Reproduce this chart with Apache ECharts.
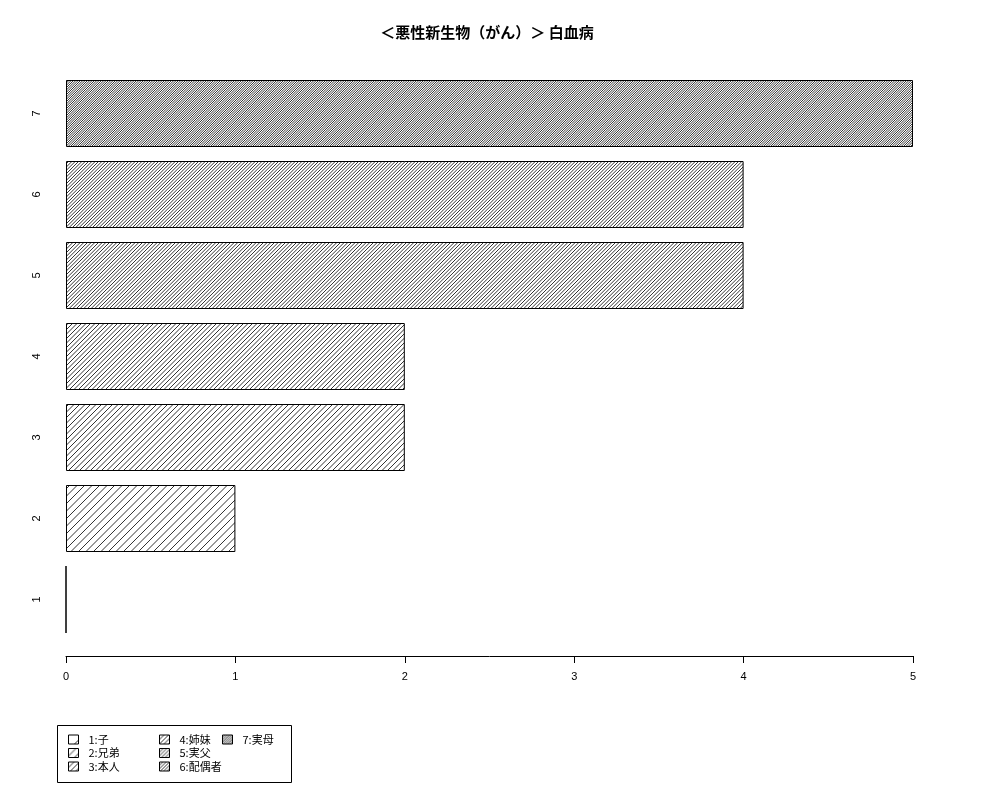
<!DOCTYPE html>
<html>
<head>
<meta charset="utf-8">
<script src="https://cdn.jsdelivr.net/npm/echarts@6/dist/echarts.min.js"></script>
<style>
html,body{margin:0;padding:0;background:#fff;}
#chart{width:1000px;height:800px;}
</style>
</head>
<body>
<div id="chart"></div>
<script>
var categories = ['1','2','3','4','5','6','7'];
var values = [0,1,2,2,4,4,5];
var legendLabels = ['1:子','2:兄弟','3:本人','4:姉妹','5:実父','6:配偶者','7:実母'];
var xTicks = [0,1,2,3,4,5];

// hatch tiles: [tile size, lines per tile] -> denser for higher categories
var hatch = [[15,1],[15,2],[11,2],[9,2],[11,3],[10,3],[7,3]];

function makeHatch(size, n){
	var c = document.createElement('canvas');
	c.width = size; c.height = size;
	var ctx = c.getContext('2d');
	ctx.strokeStyle = '#000';
	ctx.lineWidth = 0.8;
	ctx.beginPath();
	for (var k = -1; k <= 1; k++) {
		for (var j = 0; j < n; j++) {
			var off = k*size + j*size/n;
			ctx.moveTo(off, size);
			ctx.lineTo(off + size, 0);
		}
	}
	ctx.stroke();
	return {image: c, repeat: 'repeat'};
}

var series = categories.map(function(cat, i){
	var data = categories.map(function(c, j){
		return j === i ? values[i] : '-';
	});
	return {
		name: legendLabels[i],
		type: 'bar',
		stack: 'all',
		barWidth: 67,
		data: data,
		itemStyle: {
			color: makeHatch(hatch[i][0], hatch[i][1]),
			borderColor: '#000',
			borderWidth: 1
		},
		emphasis: {disabled: true},
		animation: false
	};
});

// legend columns like R's ncol=3 layout
function legendCol(left, items){
	return {
		orient: 'vertical',
		left: left,
		top: 733,
		padding: 0,
		itemGap: 0.5,
		itemWidth: 10,
		itemHeight: 9,
		icon: 'rect',
		selectedMode: false,
		data: items,
		itemStyle: {borderColor: '#000', borderWidth: 1},
		textStyle: {
			fontFamily: 'Noto Sans CJK JP',
			fontSize: 11,
			lineHeight: 13,
			color: '#000',
			padding: [0, 0, 0, 5]
		}
	};
}

var chart = echarts.init(document.getElementById('chart'));
chart.setOption({
	backgroundColor: '#fff',
	title: {
		text: '＜悪性新生物（がん）＞ 白血病',
		left: 482,
		textAlign: 'center',
		top: 20,
		textStyle: {
			fontFamily: 'Noto Sans CJK JP',
			fontSize: 15,
			fontWeight: 'bold',
			color: '#000'
		}
	},
	graphic: [{
		type: 'rect',
		left: 57,
		top: 725,
		shape: {width: 234, height: 57},
		style: {fill: '#fff', stroke: '#000', lineWidth: 1},
		z: -1
	}],
	legend: [
		legendCol(68, legendLabels.slice(0,3)),
		legendCol(159, legendLabels.slice(3,6)),
		legendCol(222, legendLabels.slice(6))
	],
	grid: {
		left: 66,
		right: 87,
		top: 73,
		bottom: 160,
		containLabel: false
	},
	xAxis: {
		type: 'value',
		min: xTicks[0],
		max: xTicks[xTicks.length-1],
		interval: 1,
		offset: 16,
		splitLine: {show: false},
		axisLine: {show: true, lineStyle: {color: '#000', width: 1}},
		axisTick: {show: true, length: 7, lineStyle: {color: '#000'}},
		axisLabel: {
			margin: 15,
			fontFamily: 'Liberation Sans',
			fontSize: 11,
			color: '#000'
		}
	},
	yAxis: {
		type: 'category',
		data: categories,
		axisLine: {show: false},
		axisTick: {show: false},
		axisLabel: {
			rotate: 90,
			margin: 24,
			fontFamily: 'Liberation Sans',
			fontSize: 11,
			color: '#000'
		}
	},
	series: series
});
</script>
</body>
</html>
